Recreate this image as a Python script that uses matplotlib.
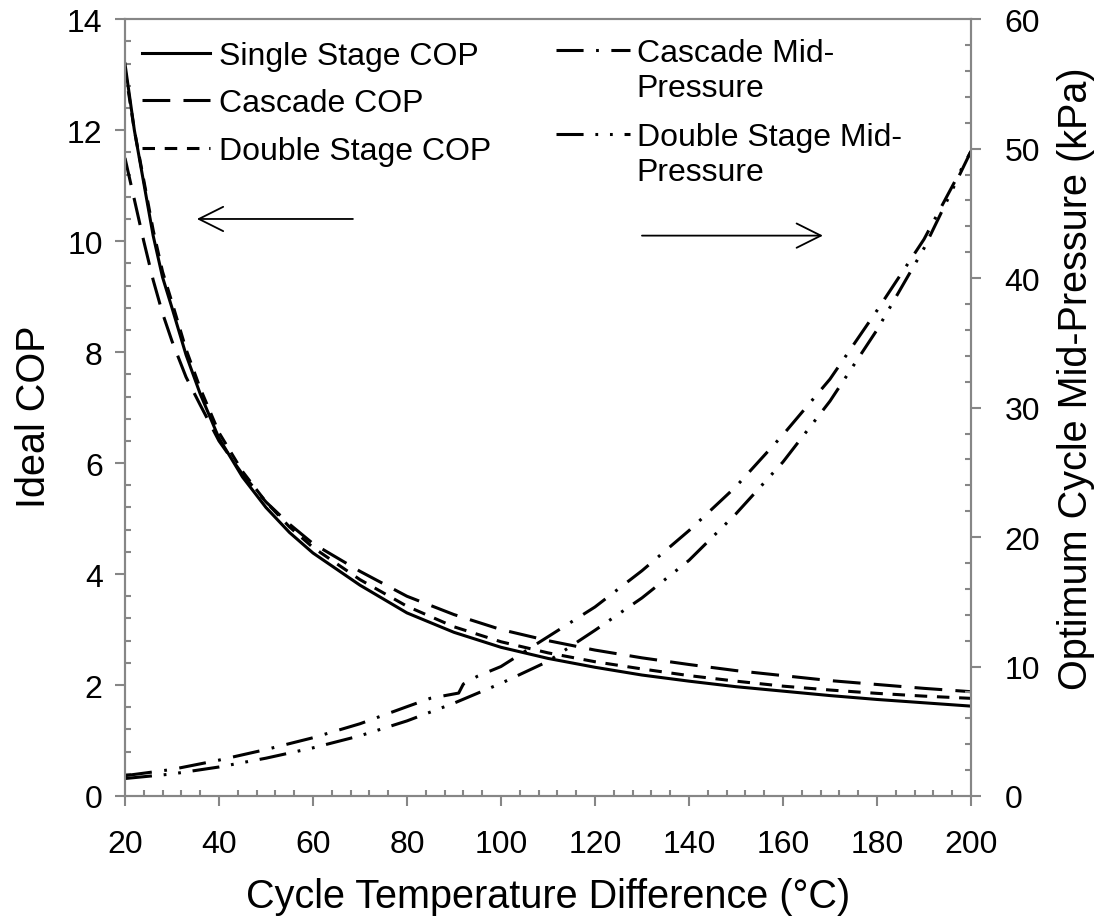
import matplotlib.pyplot as plt
from matplotlib.ticker import MultipleLocator

plt.rcParams['font.family'] = ['Liberation Sans', 'DejaVu Sans']
plt.rcParams['lines.scale_dashes'] = False

# cycle temperature difference (C)
temp_diff = [20, 22, 24, 26, 28, 30, 33, 36, 40, 45, 50, 55, 60, 70, 80, 90,
             100, 110, 120, 130, 140, 150, 160, 170, 180, 190, 200]
single_cop = [13.2, 12.0, 11.05, 10.1, 9.35, 8.8, 7.95, 7.25, 6.45, 5.75, 5.2, 4.75, 4.38, 3.8, 3.3, 2.95,
              2.68, 2.48, 2.32, 2.18, 2.07, 1.97, 1.89, 1.81, 1.74, 1.68, 1.62]
cascade_cop = [11.5, 10.75, 10.0, 9.3, 8.7, 8.2, 7.55, 7.05, 6.4, 5.8, 5.3, 4.9, 4.55, 4.05, 3.6, 3.27,
               3.0, 2.8, 2.63, 2.49, 2.37, 2.26, 2.17, 2.08, 2.01, 1.94, 1.88]
double_cop = [13.1, 12.0, 11.1, 10.2, 9.45, 8.9, 8.05, 7.35, 6.55, 5.85, 5.3, 4.85, 4.48, 3.9, 3.42, 3.05,
              2.78, 2.58, 2.42, 2.29, 2.17, 2.07, 1.98, 1.91, 1.85, 1.8, 1.76]

# optimum mid-pressure (kPa)
cascade_p_x = [20, 30, 40, 50, 60, 70, 80, 85, 91, 92, 95, 100, 110, 120, 130, 140, 150, 160, 170, 180, 190, 200]
cascade_p = [1.57, 2.05, 2.77, 3.59, 4.5, 5.58, 6.9, 7.55, 7.95, 8.65, 9.25, 10.0, 12.3, 14.6, 17.4, 20.5,
             23.9, 27.9, 32.2, 37.5, 43.0, 49.8]
double_p_x = [20, 30, 40, 50, 60, 70, 80, 90, 100, 110, 120, 130, 140, 150, 160, 170, 180, 190, 200]
double_p = [1.35, 1.7, 2.24, 2.92, 3.72, 4.65, 5.8, 7.17, 8.7, 10.4, 12.8, 15.3, 18.2, 21.8, 25.8, 30.5,
            36.0, 42.3, 49.8]

gray = '#868686'
fs = 23
fs_lab = 28.5
lw = 2.2

fig, ax1 = plt.subplots(figsize=(10.99, 9.2), dpi=100)
fig.subplots_adjust(left=0.1137, right=0.8835, top=0.978, bottom=0.1337)
ax2 = ax1.twinx()

# COP curves
ax1.plot(temp_diff, single_cop, color='black', lw=lw, label='Single Stage COP')
ax1.plot(temp_diff, cascade_cop, color='black', lw=lw, dashes=(20, 9.5), label='Cascade COP')
ax1.plot(temp_diff, double_cop, color='black', lw=lw, dashes=(9, 7), label='Double Stage COP')

# mid-pressure curves
ax2.plot(cascade_p_x, cascade_p, color='black', lw=lw, dashes=(19.5, 9, 2, 9),
         label='Cascade Mid-')
ax2.plot(double_p_x, double_p, color='black', lw=lw, dashes=(19.5, 8.5, 2, 8.5, 2, 8.5),
         label='Double Stage Mid-')

ax1.set_xlim(20, 200)
ax1.set_ylim(0, 14)
ax2.set_ylim(0, 60)
ax1.xaxis.set_major_locator(MultipleLocator(20))
ax1.xaxis.set_minor_locator(MultipleLocator(4))
ax1.yaxis.set_major_locator(MultipleLocator(2))
ax1.yaxis.set_minor_locator(MultipleLocator(0.4))
ax2.yaxis.set_major_locator(MultipleLocator(10))
ax2.yaxis.set_minor_locator(MultipleLocator(2))

for ax in (ax1, ax2):
    for s in ax.spines.values():
        s.set_color(gray)
        s.set_linewidth(1.5)
    ax.tick_params(which='major', direction='out', length=7, width=1.5, color=gray,
                   labelsize=fs, labelcolor='black')
    ax.tick_params(which='minor', direction='in', length=4.5, width=1.5, color=gray)
ax1.tick_params(axis='x', which='major', pad=17)
ax1.tick_params(axis='y', which='major', pad=9)
ax2.tick_params(axis='y', which='major', pad=17)

ax1.set_xlabel('Cycle Temperature Difference (°C)', fontsize=fs_lab, labelpad=13)
ax1.set_ylabel('Ideal COP', fontsize=fs_lab, labelpad=10)
ax2.set_ylabel('Optimum Cycle Mid-Pressure (kPa)', fontsize=fs_lab, labelpad=12)
ax1.yaxis.label.set_y(0.49)
ax2.yaxis.label.set_y(0.538)

leg1 = ax1.legend(loc='upper left', bbox_to_anchor=(-0.002, 0.997), frameon=False, fontsize=fs,
                  handlelength=2.1, handletextpad=0.3, labelspacing=0.55, borderaxespad=0.2)
leg2 = ax2.legend(loc='upper left', bbox_to_anchor=(0.487, 1.0), frameon=False, fontsize=fs,
                  handlelength=2.3, handletextpad=0.22, labelspacing=1.69, borderaxespad=0.2)
# second line of each mid-pressure label, hung under the legend text
for t in leg2.get_texts():
    ax2.annotate('Pressure', xy=(0, 0), xycoords=t, xytext=(0, -3), textcoords='offset points',
                 ha='left', va='top', fontsize=fs, zorder=10)

# direction arrows
arrow = dict(arrowstyle='->, head_length=0.7, head_width=0.35', lw=1.3, color='black',
             mutation_scale=25, shrinkA=0, shrinkB=0)
ax1.annotate('', xy=(35.3, 10.4), xytext=(68.5, 10.4), arrowprops=arrow)
ax1.annotate('', xy=(168.5, 10.1), xytext=(130.0, 10.1), arrowprops=arrow)

fig.savefig('out.png', dpi=100)
